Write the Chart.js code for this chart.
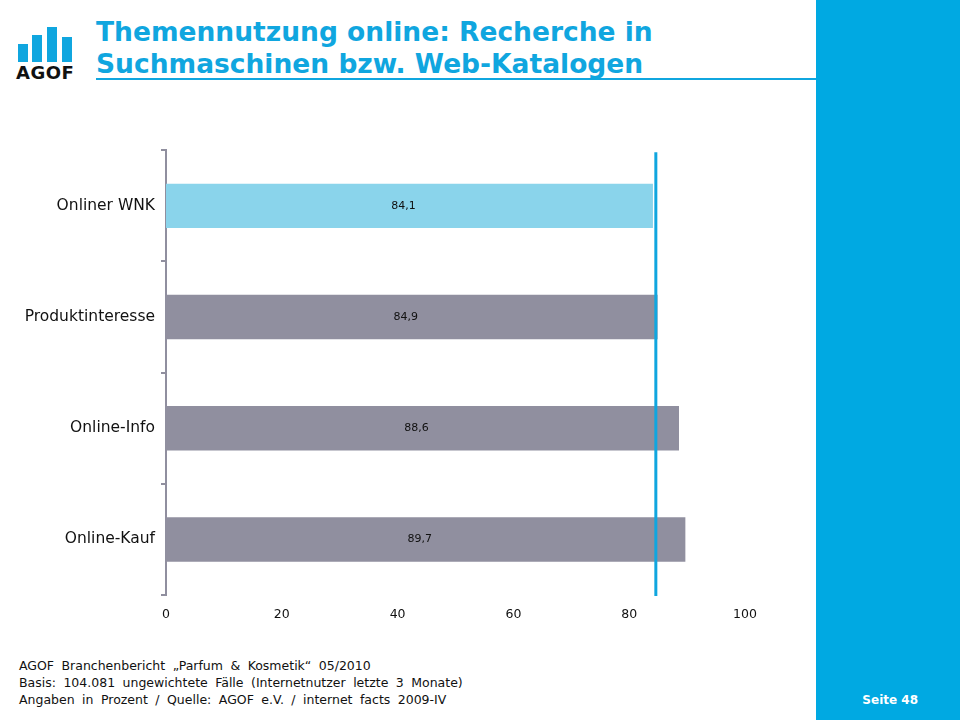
<!DOCTYPE html>
<html>
<head>
<meta charset="utf-8">
<script src="https://cdn.jsdelivr.net/npm/chart.js@4.4.0/dist/chart.umd.min.js"></script>
<style>
    body { margin: 0; width: 960px; height: 720px; position: relative; background: #fff; overflow: hidden; font-family: "DejaVu Sans", Verdana, sans-serif; }
    #side { position: absolute; left: 816px; top: 0; width: 144px; height: 720px; background: #00A9E2; }
    #page { position: absolute; right: 42px; top: 693px; color: #fff; font-weight: bold; font-size: 12px; }
    #title { position: absolute; left: 96px; top: 16px; color: #10A6DF; font-weight: bold; font-size: 26.5px; line-height: 32px; }
    #rule { position: absolute; left: 96px; top: 78px; width: 720px; height: 2px; background: #10A6DF; }
    .lb { position: absolute; background: #10A6DF; width: 10px; }
    #agof { position: absolute; left: 16px; top: 62px; font-weight: bold; font-size: 18px; color: #111; letter-spacing: 0.5px; }
    #foot { position: absolute; left: 19px; top: 657px; font-size: 12.5px; line-height: 17px; color: #111; word-spacing: 3.5px; }
    #wrap { position: absolute; left: 0; top: 135px; width: 800px; height: 505px; }
</style>
</head>
<body>
<div id="side"></div>
<div id="page">Seite 48</div>
<div class="lb" style="left:18px;top:44px;height:18px"></div>
<div class="lb" style="left:32px;top:35px;height:27px"></div>
<div class="lb" style="left:47px;top:27px;height:35px"></div>
<div class="lb" style="left:62px;top:37px;height:25px"></div>
<div id="agof">AGOF</div>
<div id="title">Themennutzung online: Recherche in<br>Suchmaschinen bzw. Web-Katalogen</div>
<div id="rule"></div>
<div id="wrap"><canvas id="chart"></canvas></div>
<div id="foot">AGOF Branchenbericht „Parfum &amp; Kosmetik“ 05/2010<br>Basis: 104.081 ungewichtete Fälle (Internetnutzer letzte 3 Monate)<br>Angaben in Prozent / Quelle: AGOF e.V. / internet facts 2009-IV</div>
<script>
var categories = ["Onliner WNK", "Produktinteresse", "Online-Info", "Online-Kauf"];
var values = [84.1, 84.9, 88.6, 89.7];
var barColors = ["#8AD4EB", "#908F9F", "#908F9F", "#908F9F"];
var xTicks = [0, 20, 40, 60, 80, 100];
var referenceValue = 84.6;

var refLine = {
    id: 'refLine',
    afterDatasetsDraw: function(chart) {
        var ctx = chart.ctx;
        var x = chart.scales.x.getPixelForValue(referenceValue);
        ctx.save();
        ctx.strokeStyle = '#10A6DF';
        ctx.lineWidth = 3;
        ctx.beginPath();
        ctx.moveTo(x, chart.chartArea.top + 2);
        ctx.lineTo(x, chart.chartArea.bottom + 1);
        ctx.stroke();
        ctx.restore();
    }
};

var barLabels = {
    id: 'barLabels',
    afterDatasetsDraw: function(chart) {
        var ctx = chart.ctx;
        var meta = chart.getDatasetMeta(0);
        ctx.save();
        ctx.font = '11px "DejaVu Sans"';
        ctx.fillStyle = '#111';
        ctx.textAlign = 'center';
        ctx.textBaseline = 'middle';
        meta.data.forEach(function(bar, i) {
            var mid = (bar.x + bar.base) / 2;
            ctx.fillText(values[i].toFixed(1).replace('.', ','), mid - 6, bar.y);
        });
        ctx.restore();
    }
};

new Chart(document.getElementById('chart'), {
    type: 'bar',
    data: {
        labels: categories,
        datasets: [{
            data: values,
            backgroundColor: barColors,
            barPercentage: 0.4,
            categoryPercentage: 1
        }]
    },
    options: {
        indexAxis: 'y',
        responsive: true,
        maintainAspectRatio: false,
        animation: false,
        layout: { padding: { top: 3, right: 55, left: 0, bottom: 0 } },
        plugins: { legend: { display: false }, tooltip: { enabled: false } },
        scales: {
            x: {
                min: 0,
                max: 100,
                afterBuildTicks: function(s) { s.ticks = xTicks.map(function(v) { return { value: v }; }); },
                afterFit: function(s) { s.height = 45; },
                grid: { display: false, drawTicks: false },
                border: { display: false },
                ticks: { padding: 12, color: '#111', font: { family: 'DejaVu Sans', size: 12.5 } }
            },
            y: {
                afterFit: function(s) { s.width = 166; },
                grid: { drawOnChartArea: false, drawTicks: true, tickLength: 5, color: '#908F9F', lineWidth: 2 },
                border: { display: true, color: '#908F9F', width: 2 },
                ticks: { padding: 6, color: '#111', font: { family: 'DejaVu Sans', size: 15.5 } }
            }
        }
    },
    plugins: [refLine, barLabels]
});
</script>
</body>
</html>
